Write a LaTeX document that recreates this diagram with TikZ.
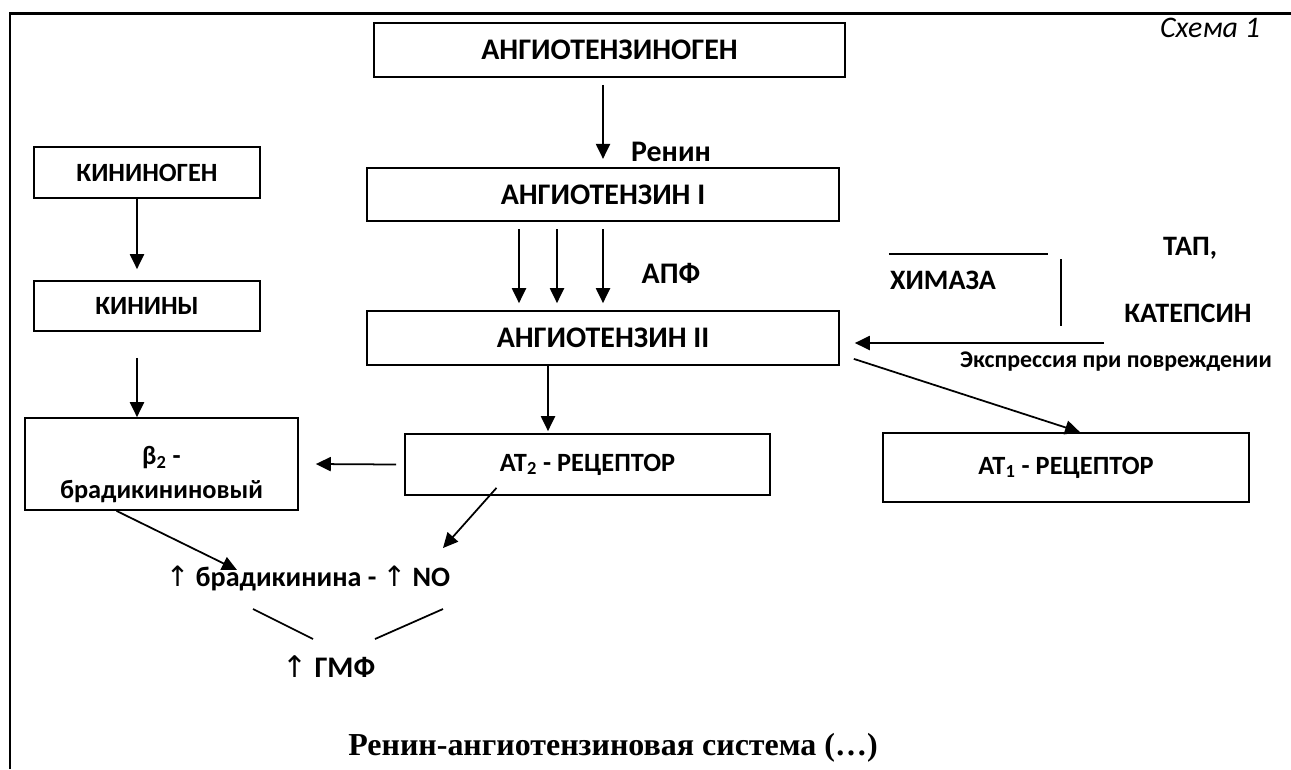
\documentclass[tikz,border=0pt]{standalone}
\usepackage{fontspec}
\setmainfont{Carlito}
\newfontfamily\arrowfont{DejaVu Sans}
\newfontfamily\titlefont{Liberation Serif}
\newcommand{\upar}{{\arrowfont\mdseries ↑}}
\usetikzlibrary{arrows.meta,calc}

\begin{document}
\begin{tikzpicture}[x=0.02cm, y=-0.02cm,
    box/.style={draw, line width=1pt, inner sep=0pt, align=center, font=\bfseries\fontsize{17}{20.4}\selectfont},
    smallbox/.style={box, font=\bfseries\fontsize{15}{19.5}\selectfont},
    txt/.style={inner sep=0pt, font=\bfseries\fontsize{17}{20.4}\selectfont},
    pointer/.style={line width=1pt, -{Triangle[length=8.5pt, width=8pt]}}]
    \useasboundingbox (0,0) rectangle (1291,769);
    \draw[line width=1.7pt] (10,769) -- (10,13) -- (1291,13);

    % renin-angiotensin chain
    \node[box, minimum width=9.42cm, minimum height=1.08cm] (angen) at (609.5,50) {АНГИОТЕНЗИНОГЕН};
    \node[box, minimum width=9.44cm, minimum height=1.07cm] (ang1) at (603,194.5) {АНГИОТЕНЗИН I};
    \node[box, minimum width=9.44cm, minimum height=1.08cm] (ang2) at (603,338) {АНГИОТЕНЗИН II};
    \node[smallbox, minimum width=7.30cm, minimum height=1.22cm] (at2) at (587.5,464.5) {АТ\textsubscript{2} - РЕЦЕПТОР};
    \node[smallbox, minimum width=7.32cm, minimum height=1.38cm] (at1) at (1066,467.5) {АТ\textsubscript{1} - РЕЦЕПТОР};

    % kinin chain
    \node[smallbox, minimum width=4.52cm, minimum height=1.02cm] (kininogen) at (147,172.5) {КИНИНОГЕН};
    \node[smallbox, minimum width=4.52cm, minimum height=1.00cm] (kinins) at (147,306) {КИНИНЫ};
    \node[smallbox, minimum width=5.46cm, minimum height=1.84cm] (b2) at (161.5,464)
      {\raisebox{-6pt}[\height][\depth]{\begin{tabular}{@{}c@{}}β\textsubscript{2} -\\брадикининовый\end{tabular}}};

    % enzymes
    \node[txt] (renin) at (671,152) {Ренин};
    \node[txt] (ace) at (671,273) {АПФ};
    \node[txt, font=\bfseries\fontsize{16}{19}\selectfont] (chymase) at (943,280) {ХИМАЗА};
    \node[txt, font=\bfseries\fontsize{16}{19}\selectfont] (tap) at (1190,248) {ТАП,};
    \node[txt, font=\bfseries\fontsize{16}{19}\selectfont] (cathepsin) at (1188,313) {КАТЕПСИН};
    \node[txt, font=\bfseries\fontsize{13.6}{16}\selectfont] (injury) at (1116,362) {Экспрессия при повреждении};
    \node[inner sep=0pt, font=\itshape\fontsize{17}{20.4}\selectfont] (scheme) at (1210,28) {Схема 1};

    % effects
    \node[txt, font=\bfseries\fontsize{16}{19}\selectfont] (effect) at (308,578) {\upar\ брадикинина - \upar\ NO};
    \node[txt] (gmf) at (329,667) {\upar\ ГМФ};
    \node[inner sep=0pt, font=\titlefont\bfseries\fontsize{18.2}{22}\selectfont] (title) at (613,748) {Ренин-ангиотензиновая система (…)};

    \coordinate (bradin) at (237,570);
    \coordinate (noin) at (443,548);
    \coordinate (tapin) at (1104,343);

    \draw[pointer] ($(angen.south -| ang1.north)+(0,7)$) -- ($(ang1.north)+(0,-8)$);
    \foreach \dx in {-84,-46,0}
      \draw[pointer] ($(ang1.south)+(\dx,7)$) -- ($(ang2.north)+(\dx,-7)$);
    \draw[pointer] ($(kininogen.south)+(-10,0)$) -- ($(kinins.north)+(-10,-11)$);
    \draw[pointer] ($(kinins.south)+(-10,26)$) -- ($(b2.north)+(-24.5,0)$);
    \draw[pointer] ($(ang2.south)+(-55,0)$) -- ($(at2.north)+(-39.5,-2)$);
    \draw[pointer] ($(at2.west)+(-8,0)$) -- ($(b2.east)+(17,0)$);
    \draw[pointer] ($(at2.south)+(-91,-8)$) -- (noin);
    \draw[pointer] ($(b2.south)+(-45,0)$) -- (bradin);
    \draw[pointer] ($(ang2.south east)+(14,-7)$) -- ($(at1.north)+(14,0)$);
    \draw[pointer] (tapin) -- ($(ang2.east)+(15,5)$);

    \draw[line width=1pt] ($(chymase.north west)+(-1,-16)$) -- ++(159,0);
    \draw[line width=1pt] ($(chymase.north east)+(65,-11)$) -- ++(0,67);
    \draw[line width=1pt] ($(gmf)+(-76,-58)$) -- ++(60,30);
    \draw[line width=1pt] ($(gmf)+(46,-28)$) -- ++(68,-30);
\end{tikzpicture}
\end{document}
